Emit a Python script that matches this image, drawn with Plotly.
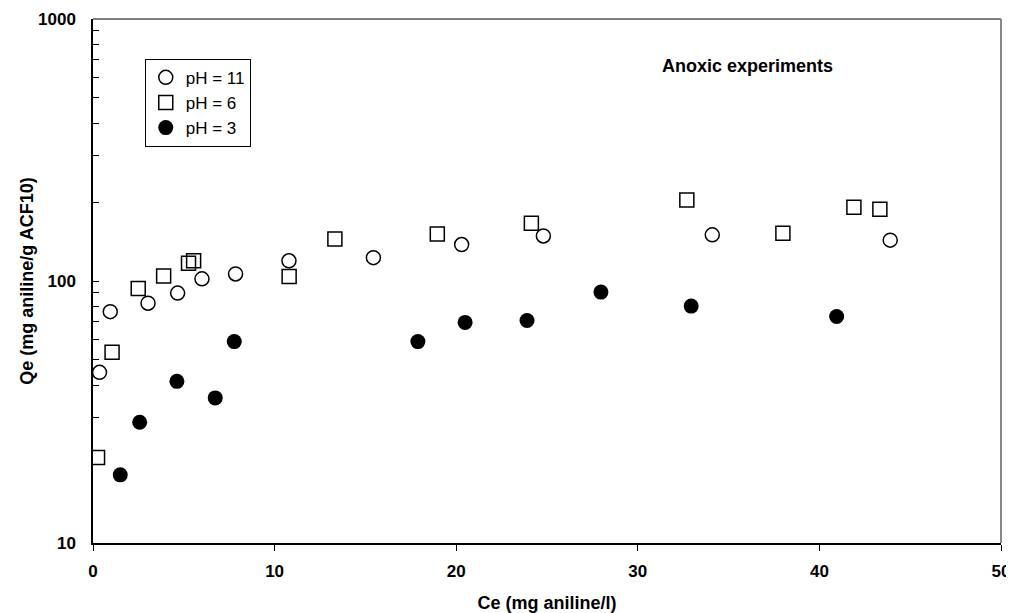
import plotly.graph_objects as go

# Data
ce_ph11 = [0.36, 0.95, 3.03, 4.66, 6.0, 7.85, 10.79, 15.44, 20.3, 24.8, 34.1, 43.9]
qe_ph11 = [44.8, 76.4, 82.3, 89.9, 101.9, 106.4, 119.4, 122.8, 137.7, 148.6, 150.0, 143.2]

ce_ph6 = [0.25, 1.05, 2.49, 3.89, 5.26, 5.54, 10.8, 13.32, 18.96, 24.14, 32.7, 37.99, 41.9, 43.33]
qe_ph6 = [21.2, 53.5, 93.6, 104.6, 117.0, 119.4, 104.0, 144.5, 151.0, 166.3, 204.0, 152.3, 191.4, 188.0]

ce_ph3 = [1.5, 2.57, 4.62, 6.73, 7.78, 17.89, 20.49, 23.9, 27.97, 32.94, 40.95]
qe_ph3 = [18.2, 28.9, 41.4, 35.8, 58.7, 58.7, 69.5, 70.7, 90.7, 80.2, 73.2]

series_names = ["pH = 11", "pH = 6", "pH = 3"]
x_tickvals = [0, 10, 20, 30, 40, 50]
y_tickvals = [10, 100, 1000]
y_minor = [20, 30, 40, 50, 60, 70, 80, 90, 200, 300, 400, 500, 600, 700, 800, 900]

FONT = "Liberation Sans, Arial, sans-serif"

fig = go.Figure()
fig.add_trace(go.Scatter(
    x=ce_ph11, y=qe_ph11, mode="markers", name=series_names[0],
    marker=dict(symbol="circle-open", size=14, color="black", line=dict(color="black", width=1.5)),
))
fig.add_trace(go.Scatter(
    x=ce_ph6, y=qe_ph6, mode="markers", name=series_names[1],
    marker=dict(symbol="square-open", size=14, color="black", line=dict(color="black", width=1.5)),
))
fig.add_trace(go.Scatter(
    x=ce_ph3, y=qe_ph3, mode="markers", name=series_names[2],
    marker=dict(symbol="circle", size=15, color="black", line=dict(color="black", width=0)),
))

fig.update_layout(
    width=1014, height=605,
    margin=dict(l=85, r=21, t=11, b=70, autoexpand=False),
    paper_bgcolor="white", plot_bgcolor="white",
    font=dict(family=FONT, color="black"),
    showlegend=True,
    legend=dict(
        x=0.057, y=0.924, xanchor="left", yanchor="top",
        bgcolor="white", bordercolor="black", borderwidth=1,
        font=dict(family=FONT, size=17, color="black"),
        itemwidth=30,
    ),
    xaxis=dict(
        range=[0, 50], tickvals=x_tickvals, ticks="outside", ticklen=6, tickwidth=1,
        tickcolor="black", showline=True, linecolor="black", linewidth=1.5,
        showgrid=False, zeroline=False, automargin=False,
        tickfont=dict(family=FONT, size=17, color="black", weight="bold"),
        ticklabelstandoff=6,
        title=dict(text="<b>Ce (mg aniline/l)</b>", font=dict(family=FONT, size=18), standoff=18),
    ),
    yaxis=dict(
        type="log", range=[1, 3], tickvals=y_tickvals, ticktext=[str(v) for v in y_tickvals],
        ticks="inside", ticklen=6, tickwidth=1, tickcolor="black",
        minor=dict(tickvals=y_minor, ticks="inside", ticklen=6, tickcolor="black", tickwidth=1),
        showline=True, linecolor="black", linewidth=1.5,
        showgrid=False, zeroline=False, automargin=False,
        tickfont=dict(family=FONT, size=17, color="black", weight="bold"),
        ticklabelstandoff=12,
        title=dict(text="<b>Qe (mg aniline/g ACF10)</b>", font=dict(family=FONT, size=18), standoff=0),
    ),
    annotations=[dict(
        x=0.721, y=0.91, xref="paper", yref="paper", xanchor="center", yanchor="middle",
        text="<b>Anoxic experiments</b>", showarrow=False,
        font=dict(family=FONT, size=18, color="black"),
    )],
    shapes=[
        dict(type="line", xref="paper", yref="paper", x0=0, x1=1, y0=1, y1=1,
             line=dict(color="#555555", width=1.5)),
        dict(type="line", xref="paper", yref="paper", x0=1, x1=1, y0=0, y1=1,
             line=dict(color="#888888", width=2)),
    ],
)

fig.write_html("out.html")
